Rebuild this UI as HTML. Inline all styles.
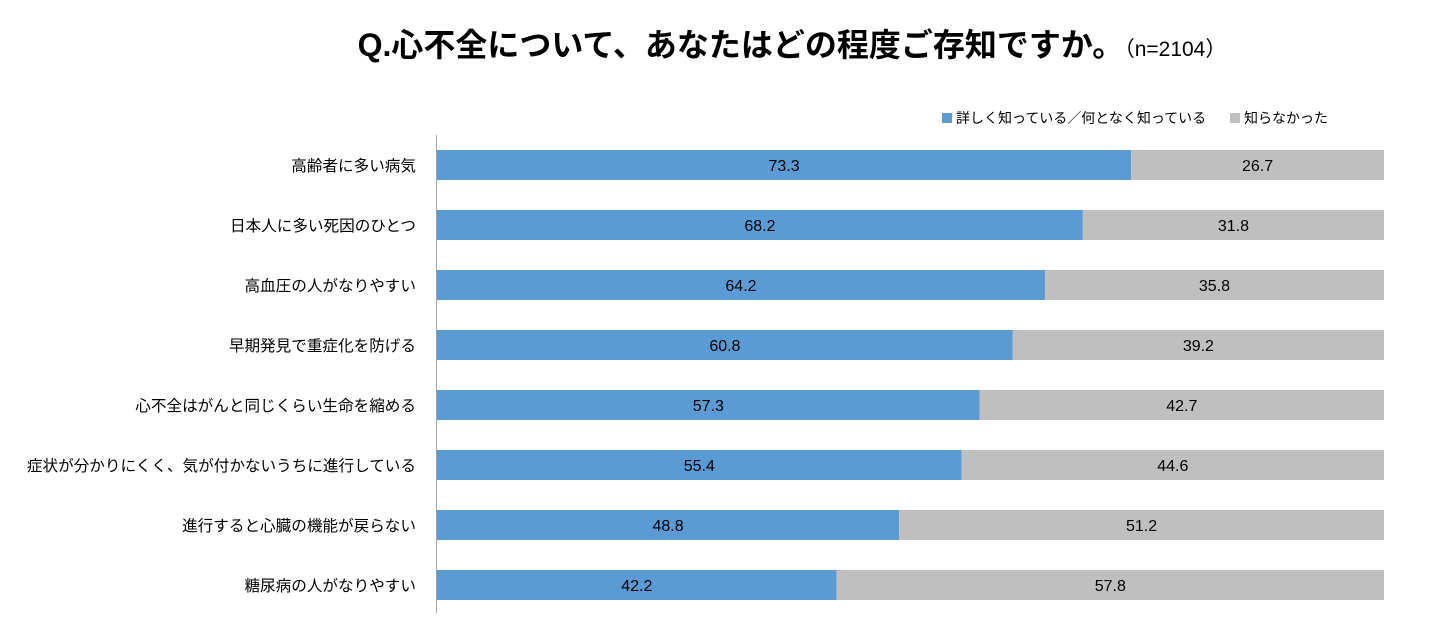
<!DOCTYPE html>
<html><head><meta charset="utf-8">
<style>
body{margin:0;background:#fff;width:1446px;height:633px;overflow:hidden;font-family:"Liberation Sans","Noto Sans CJK JP",sans-serif;}
</style></head>
<body>
<svg id="chart" width="1446" height="633" xmlns="http://www.w3.org/2000/svg" style="font-family:'Liberation Sans','Noto Sans CJK JP',sans-serif">
<text x="792" y="56" text-anchor="middle" font-size="32" font-weight="bold" fill="#000">Q.心不全について、あなたはどの程度ご存知ですか。<tspan font-size="21" font-weight="normal">（n=2104）</tspan></text>
<g>
<rect x="942" y="113" width="10" height="10" fill="#5b9bd5"/>
<text x="956" y="123" font-size="14" fill="#000">詳しく知っている／何となく知っている</text>
<rect x="1230" y="113" width="10" height="10" fill="#bfbfbf"/>
<text x="1244" y="123" font-size="14" fill="#000">知らなかった</text>
</g>
<g id="bars"></g>
<line x1="436.5" y1="135" x2="436.5" y2="613" stroke="#a6a6a6" stroke-width="1"/>
</svg>
<script>
const categories=["高齢者に多い病気","日本人に多い死因のひとつ","高血圧の人がなりやすい","早期発見で重症化を防げる","心不全はがんと同じくらい生命を縮める","症状が分かりにくく、気が付かないうちに進行している","進行すると心臓の機能が戻らない","糖尿病の人がなりやすい"];
const known=[73.3,68.2,64.2,60.8,57.3,55.4,48.8,42.2];
const unknown=[26.7,31.8,35.8,39.2,42.7,44.6,51.2,57.8];
const x0=437,x1=1384,top0=150,step=60,bh=30;
const xs=v=>x0+(x1-x0)*v/100;
const ys=i=>top0+i*step;
const ns="http://www.w3.org/2000/svg";
const g=document.getElementById('bars');
function mk(t,a){const e=document.createElementNS(ns,t);for(const k in a)e.setAttribute(k,a[k]);g.appendChild(e);return e;}
categories.forEach((c,i)=>{
 const y=ys(i);
 const lab=mk('text',{x:416,y:y+bh/2+6,'text-anchor':'end','font-size':15.6,fill:'#000'});
 lab.textContent=c;
 
 
 const a=mk('rect',{x:x0,y:y,width:xs(known[i])-x0,height:bh,fill:'#5b9bd5'});
 
 
 const total=known[i]+unknown[i];
 const b=mk('rect',{x:xs(known[i]),y:y,width:xs(total)-xs(known[i]),height:bh,fill:'#bfbfbf'});
 
 
 const t1=mk('text',{x:(x0+xs(known[i]))/2,y:y+bh/2+6,'text-anchor':'middle','font-size':16,fill:'#000'});
 t1.textContent=known[i].toFixed(1);
 
 
 const t2=mk('text',{x:(xs(known[i])+xs(total))/2,y:y+bh/2+6,'text-anchor':'middle','font-size':16,fill:'#000'});
 t2.textContent=unknown[i].toFixed(1);
 
 
});
</script>
</body></html>
